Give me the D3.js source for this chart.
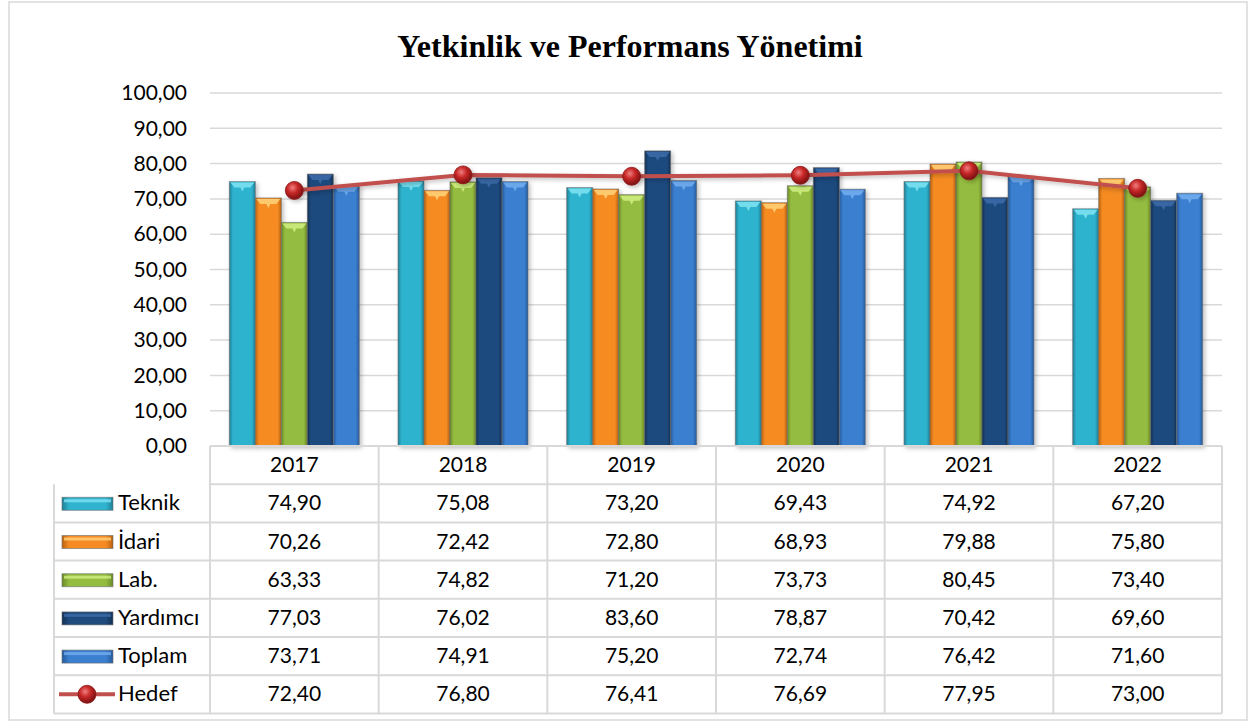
<!DOCTYPE html>
<html>
<head>
<meta charset="utf-8">
<script src="https://cdn.jsdelivr.net/npm/d3@7"></script>
<style>
  body { margin: 0; background: #fff; }
  text { font-family: Lato, "Open Sans", sans-serif; }
</style>
</head>
<body>
<svg></svg>
<script>
// Data
const years = ["2017", "2018", "2019", "2020", "2021", "2022"];
const seriesNames = ["Teknik", "İdari", "Lab.", "Yardımcı", "Toplam"];
const teknik = [74.90, 75.08, 73.20, 69.43, 74.92, 67.20];
const idari = [70.26, 72.42, 72.80, 68.93, 79.88, 75.80];
const lab = [63.33, 74.82, 71.20, 73.73, 80.45, 73.40];
const yardimci = [77.03, 76.02, 83.60, 78.87, 70.42, 69.60];
const toplam = [73.71, 74.91, 75.20, 72.74, 76.42, 71.60];
const hedef = [72.40, 76.80, 76.41, 76.69, 77.95, 73.00];
const yTicks = [0, 10, 20, 30, 40, 50, 60, 70, 80, 90, 100];

const barSeries = [teknik, idari, lab, yardimci, toplam];
const colors = ["#2FB3CF", "#F68B24", "#94BC3F", "#1F4A7E", "#3B7FD0"];
const edgeColors = ["#1E7F95", "#B8620F", "#6A8A28", "#132F52", "#265A99"];
const topColors = ["#7FE3F2", "#FFD27A", "#D0EE82", "#3C6BA8", "#73AEF0"];

// Svg dimensions
const width = 1255;
const height = 722;
const svg = d3.select("svg").attr("width", width).attr("height", height);

const plot = { left: 210, right: 1222, top: 93, bottom: 446 };
const rowH = 38.2;
const fmt = (v) => d3.format(".2f")(v).replace(".", ",");

// Gradients for bars
const defs = svg.append("defs");
colors.forEach((c, i) => {
  const g = defs.append("linearGradient").attr("id", "bar" + i)
    .attr("x1", 0).attr("x2", 1).attr("y1", 0).attr("y2", 0);
  g.append("stop").attr("offset", "0%").attr("stop-color", edgeColors[i]);
  g.append("stop").attr("offset", "14%").attr("stop-color", c);
  g.append("stop").attr("offset", "86%").attr("stop-color", c);
  g.append("stop").attr("offset", "100%").attr("stop-color", edgeColors[i]);
});
const rg = defs.append("radialGradient").attr("id", "ball")
  .attr("cx", "40%").attr("cy", "35%").attr("r", "65%");
rg.append("stop").attr("offset", "0%").attr("stop-color", "#F08080");
rg.append("stop").attr("offset", "45%").attr("stop-color", "#C82828");
rg.append("stop").attr("offset", "100%").attr("stop-color", "#7A1010");
const sh = defs.append("filter").attr("id", "shadow")
  .attr("x", "-20%").attr("y", "-20%").attr("width", "150%").attr("height", "150%");
sh.append("feDropShadow").attr("dx", 2).attr("dy", 2).attr("stdDeviation", 2)
  .attr("flood-color", "#000").attr("flood-opacity", 0.25);

// Outer border
svg.append("rect").attr("x", 9).attr("y", 2).attr("width", 1238).attr("height", 718)
  .attr("fill", "#fff").attr("stroke", "#D9D9D9").attr("stroke-width", 1.5);

// Title
svg.append("text").attr("x", 630).attr("y", 57).attr("text-anchor", "middle")
  .style("font-family", "'Liberation Serif', 'Times New Roman', serif")
  .style("font-weight", "bold").style("font-size", "32px")
  .text("Yetkinlik ve Performans Yönetimi");

// Scales
const x = d3.scaleBand().domain(years).range([plot.left, plot.right]);
const xInner = d3.scaleBand().domain(d3.range(barSeries.length))
  .range([0, x.bandwidth()]).paddingOuter(0.744);
const y = d3.scaleLinear().domain([0, 100]).range([plot.bottom, plot.top]);

// Gridlines
svg.append("g").selectAll("line").data(yTicks.slice(1)).join("line")
  .attr("x1", plot.left).attr("x2", plot.right)
  .attr("y1", (d) => y(d)).attr("y2", (d) => y(d))
  .attr("stroke", "#D9D9D9").attr("stroke-width", 1.5);

// Y axis
const yAxis = d3.axisLeft(y).tickValues(yTicks).tickFormat(fmt).tickSize(0).tickPadding(23);
const yAxisG = svg.append("g").attr("transform", `translate(${plot.left},0)`).call(yAxis);
yAxisG.select(".domain").remove();
yAxisG.selectAll("text").style("font-size", "21px").attr("fill", "#000")
  .style("font-family", "Lato, sans-serif");

// Bars
const groups = svg.append("g").selectAll("g").data(barSeries).join("g");
groups.each(function (vals, si) {
  const g = d3.select(this);
  const bw = xInner.bandwidth();
  const bx = (i) => x(years[i]) + xInner(si);
  g.selectAll("rect").data(vals).join("rect")
    .attr("x", (d, i) => bx(i))
    .attr("y", (d) => y(d))
    .attr("width", bw)
    .attr("height", (d) => y(0) - y(d))
    .attr("fill", `url(#bar${si})`)
    .attr("stroke", "#6E6E6E").attr("stroke-opacity", 0.6).attr("stroke-width", 1)
    .attr("filter", "url(#shadow)");
  // bevel on top
  g.selectAll("path").data(vals).join("path")
    .attr("d", (d, i) => {
      const x0 = bx(i), yt = y(d);
      return `M${x0 + 1},${yt + 1}L${x0 + bw - 1},${yt + 1}L${x0 + bw - 5},${yt + 6}L${x0 + bw / 2 + 2},${yt + 6}L${x0 + bw / 2},${yt + 10}L${x0 + bw / 2 - 2},${yt + 6}L${x0 + 5},${yt + 6}Z`;
    })
    .attr("fill", topColors[si]).attr("opacity", 0.85);
});

// Hedef line
const cx = (i) => x(years[i]) + x.bandwidth() / 2;
const line = d3.line().x((d, i) => cx(i)).y((d) => y(d));
svg.append("path").datum(hedef).attr("d", line)
  .attr("fill", "none").attr("stroke", "#C0504D").attr("stroke-width", 4)
  .attr("filter", "url(#shadow)");
svg.append("g").selectAll("circle").data(hedef).join("circle")
  .attr("cx", (d, i) => cx(i)).attr("cy", (d) => y(d)).attr("r", 9)
  .attr("fill", "url(#ball)").attr("stroke", "#8B1A1A").attr("stroke-width", 0.8)
  .attr("filter", "url(#shadow)");

// Data table
const allRows = [...barSeries, hedef];
const rowNames = [...seriesNames, "Hedef"];
const tableTop = plot.bottom;
const tableLeft = 54;
const tableBottom = tableTop + rowH * (allRows.length + 1);
const table = svg.append("g");
const border = { stroke: "#D9D9D9", width: 2 };

// horizontal lines
table.selectAll("line.h").data(d3.range(allRows.length + 2)).join("line")
  .attr("class", "h")
  .attr("x1", (d) => (d < 2 ? plot.left : tableLeft)).attr("x2", plot.right)
  .attr("y1", (d) => tableTop + d * rowH).attr("y2", (d) => tableTop + d * rowH)
  .attr("stroke", border.stroke).attr("stroke-width", border.width);
// vertical lines
table.selectAll("line.v").data(years.map((yr) => x(yr)).concat([plot.right])).join("line")
  .attr("class", "v")
  .attr("x1", (d) => d).attr("x2", (d) => d)
  .attr("y1", tableTop).attr("y2", tableBottom)
  .attr("stroke", border.stroke).attr("stroke-width", border.width);
table.append("line").attr("x1", tableLeft).attr("x2", tableLeft)
  .attr("y1", tableTop + rowH).attr("y2", tableBottom)
  .attr("stroke", border.stroke).attr("stroke-width", border.width);

// header years
table.selectAll("text.yr").data(years).join("text").attr("class", "yr")
  .attr("x", (d) => x(d) + x.bandwidth() / 2).attr("y", tableTop + rowH / 2 + 7)
  .attr("text-anchor", "middle").style("font-size", "21px").text((d) => d);

// rows
allRows.forEach((vals, r) => {
  const yMid = tableTop + (r + 1) * rowH + rowH / 2;
  table.selectAll(`text.r${r}`).data(vals).join("text").attr("class", `r${r}`)
    .attr("x", (d, i) => x(years[i]) + x.bandwidth() / 2).attr("y", yMid + 7)
    .attr("text-anchor", "middle").style("font-size", "21px").text((d) => fmt(d));
  table.append("text").attr("x", 118).attr("y", yMid + 7)
    .style("font-size", "22px").text(rowNames[r]);
  if (r < barSeries.length) {
    table.append("rect").attr("x", 62).attr("y", yMid - 6).attr("width", 51).attr("height", 13)
      .attr("fill", `url(#bar${r})`).attr("stroke", "#6E6E6E").attr("stroke-opacity", 0.6);
    table.append("rect").attr("x", 64).attr("y", yMid - 4).attr("width", 47).attr("height", 3)
      .attr("fill", topColors[r]).attr("opacity", 0.8);
  } else {
    table.append("line").attr("x1", 59).attr("x2", 115).attr("y1", yMid).attr("y2", yMid)
      .attr("stroke", "#C0504D").attr("stroke-width", 4);
    table.append("circle").attr("cx", 87).attr("cy", yMid).attr("r", 9)
      .attr("fill", "url(#ball)").attr("stroke", "#8B1A1A").attr("stroke-width", 0.8);
  }
});
</script>
</body>
</html>
